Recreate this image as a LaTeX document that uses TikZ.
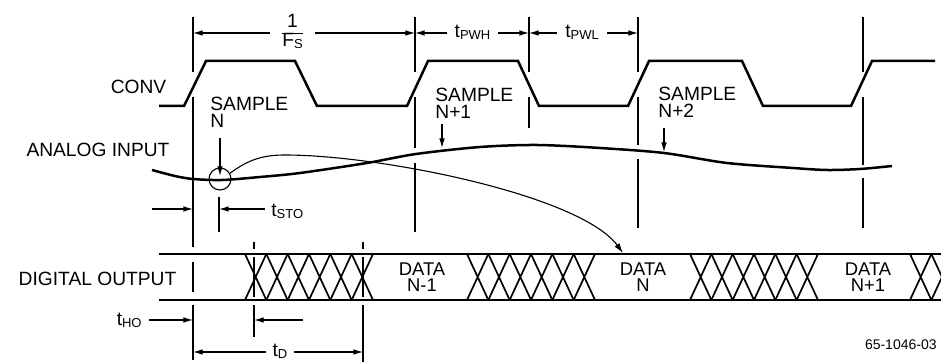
\documentclass[tikz,border=0pt]{standalone}
\usepackage{fontspec}
\setmainfont{Liberation Sans}
\usetikzlibrary{arrows.meta}
\newcommand{\sbs}[1]{\raisebox{-0.7pt}{\fontsize{6.5}{7}\selectfont #1}}
\tikzset{
  wave/.style={line width=1.25pt,line join=miter},
  tick/.style={line width=0.55pt},
  hatch/.style={line width=0.85pt},
  dim/.style={-{Latex[length=4.8pt,width=2.8pt]},line width=0.55pt},
  lbl/.style={inner sep=0pt,font=\fontsize{9.6}{8.2}\selectfont},
  dlbl/.style={lbl,inner xsep=3.5pt},
  dat/.style={lbl,align=center,font=\fontsize{9.2}{8}\selectfont},
}

\begin{document}
\begin{tikzpicture}[x=0.5pt,y=-0.5pt]
\useasboundingbox (0,0) rectangle (941,362);
% signal names
\node[lbl] (conv) at (138.5,86.5) {CONV};
\node[lbl] (ain) at (98,150) {ANALOG INPUT};
\node[lbl] (dout) at (97.5,278.5) {DIGITAL OUTPUT};
% CONV waveform
\draw[wave] (159,106) -- (184,106) -- (206,61) -- (295,61) -- (317,106) -- (407,106)
  -- (428,61) -- (518,61) -- (539,106) -- (628,106) -- (649,61) -- (742,61)
  -- (763,106) -- (851,106) -- (872,61) -- (935,61);
% timing lines
\foreach \x/\a/\b in {193/17/72, 193/97/247, 193/262/292, 193/305/360, 219/197/232,
  254/242/249, 254/257/297, 254/305/337, 363/242/249, 363/257/297, 363/305/362,
  415/17/72, 415/97/148, 415/163/232, 529/17/72, 529/97/128,
  638/17/72, 638/97/145, 638/159/228, 863/17/72, 863/97/165, 863/178/228}
  \draw[tick] (\x,\a) -- (\x,\b);
% analog input
\draw[wave] plot[smooth] coordinates {(152,170) (175,176) (193,179) (222,180) (260,177)
  (300,173) (367,163) (416,154) (480,147) (537,145) (600,148) (664,153) (727,163)
  (793,168) (827,170) (860,169) (892,166)};
\node[circle,draw,tick,minimum size=11pt,inner sep=0pt] (hold) at (220,179) {};
% sample labels
\node[lbl,align=left,anchor=north west] (smpN) at (210,97) {SAMPLE\\N};
\node[lbl,align=left,anchor=north west] (smpA) at (435,88) {SAMPLE\\N+1};
\node[lbl,align=left,anchor=north west] (smpB) at (658,87) {SAMPLE\\N+2};
\coordinate (pN) at (220,176);
\coordinate (pA) at (442,148);
\coordinate (pB) at (664,152);
\draw[dim] (220,138) -- (pN);
\draw[dim] (442,124) -- (pA);
\draw[dim] (664,128) -- (pB);
% digital output
\draw[wave] (159,254) -- (941,254);
\draw[wave] (159,300) -- (941,300);
\begin{scope}
\clip (159,240) rectangle (941,320);
\foreach \s in {245,467,690,910}
  \foreach \k in {0,...,5}
    \draw[hatch] ({\s+\k*21.33},254) -- ({\s+(\k+1)*21.33},300)
      ({\s+\k*21.33},300) -- ({\s+(\k+1)*21.33},254);
\end{scope}
\node[dat] (dA) at (422,277) {DATA\\N-1};
\node[dat] (dB) at (643,277) {DATA\\N};
\node[dat] (dC) at (868,277) {DATA\\N+1};
\coordinate (dN) at (623,253);
\draw[tick,-{Latex[length=5pt,width=3pt]}] (hold.30) .. controls (248,160) and (262,155) .. (285,155)
  .. controls (380,155) and (580,195) .. (dN);
% timing dimensions
\coordinate (fsA) at (193,33);
\coordinate (fsB) at (415,33);
\coordinate (pwlA) at (529,33);
\coordinate (pwlB) at (638,33);
\coordinate (stoS) at (152,209);
\coordinate (stoA) at (193,209);
\coordinate (stoB) at (219,209);
\coordinate (hoA) at (193,320);
\coordinate (hoB) at (254,320);
\coordinate (hoS) at (303,320);
\coordinate (tdA) at (193,352);
\coordinate (tdB) at (363,352);
\node[lbl,inner xsep=6pt] (fs) at (292.5,33)
  {\renewcommand\arraystretch{1.05}\begin{tabular}{@{}c@{}}1\\\hline F\sbs{S}\end{tabular}};
\draw[dim] (fs.west |- fsA) -- (fsA);
\draw[dim] (fs.east |- fsB) -- (fsB);
\node[dlbl,anchor=base] (pwh) at (472.5,38) {t\sbs{PWH}};
\draw[dim] (pwh.west |- fsB) -- (fsB);
\draw[dim] (pwh.east |- pwlA) -- (pwlA);
\node[dlbl,anchor=base,inner xsep=4pt] (pwl) at (582,38) {t\sbs{PWL}};
\draw[dim] (pwl.west |- pwlA) -- (pwlA);
\draw[dim] (pwl.east |- pwlB) -- (pwlB);
\node[dlbl,anchor=base west,inner xsep=3pt] (sto) at (265,217) {t\sbs{STO}};
\draw[dim] (stoS) -- (stoA);
\draw[dim] (sto.west |- stoB) -- (stoB);
\node[dlbl,anchor=base east] (tho) at (149,326) {t\sbs{HO}};
\draw[dim] (tho.east |- hoA) -- (hoA);
\draw[dim] (hoS) -- (hoB);
\node[dlbl,anchor=base,inner xsep=3pt] (td) at (280,357) {t\sbs{D}};
\draw[dim] (td.west |- tdA) -- (tdA);
\draw[dim] (td.east |- tdB) -- (tdB);
% figure number
\node[lbl,font=\fontsize{7}{8}\selectfont,anchor=east] (fig) at (937,345) {65-1046-03};
\end{tikzpicture}
\end{document}
